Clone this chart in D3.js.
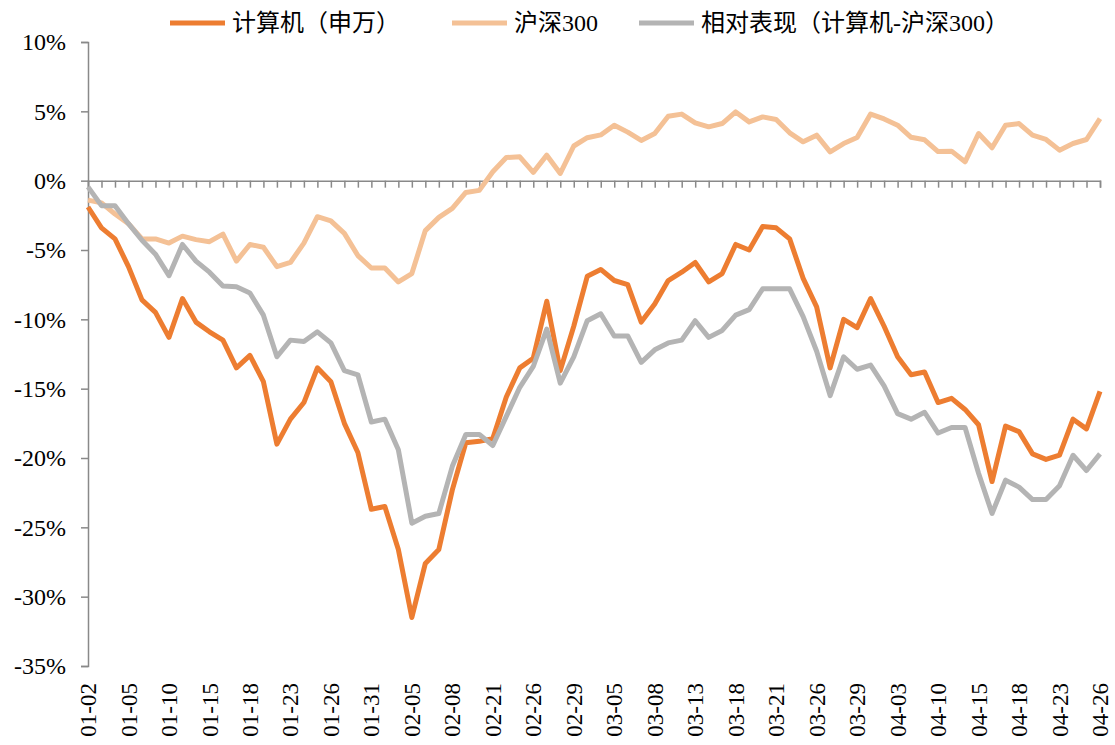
<!DOCTYPE html>
<html lang="zh">
<head>
<meta charset="UTF-8">
<title>计算机 vs 沪深300</title>
<script src="https://cdn.jsdelivr.net/npm/d3@7/dist/d3.min.js"></script>
<style>
  body { margin: 0; background: #fff; }
  text { font-family: "Liberation Serif", "Noto Sans CJK SC", serif; fill: #000; }
</style>
</head>
<body>
<svg id="chart"></svg>
<script>
const width = 1115, height = 745

// 交易日 2024-01-02 ~ 2024-04-26
const dates = [
  '01-02','01-03','01-04','01-05','01-08','01-09','01-10','01-11','01-12','01-15','01-16',
  '01-17','01-18','01-19','01-22','01-23','01-24','01-25','01-26','01-29','01-30','01-31',
  '02-01','02-02','02-05','02-06','02-07','02-08','02-19','02-20','02-21','02-22','02-23',
  '02-26','02-27','02-28','02-29',
  '03-01','03-04','03-05','03-06','03-07','03-08','03-11','03-12','03-13','03-14','03-15',
  '03-18','03-19','03-20','03-21','03-22','03-25','03-26','03-27','03-28','03-29',
  '04-01','04-02','04-03','04-08','04-09','04-10','04-11','04-12','04-15','04-16','04-17',
  '04-18','04-19','04-22','04-23','04-24','04-25','04-26'
]

// 计算机（申万）累计涨跌幅 %
const computer = [
  -1.9, -3.4, -4.2, -6.2, -8.6, -9.5, -11.3, -8.5, -10.2, -10.9, -11.5,
  -13.5, -12.6, -14.5, -19.0, -17.2, -16.0, -13.5, -14.5, -17.5, -19.6, -23.7,
  -23.5, -26.6, -31.5, -27.6, -26.6, -22.3, -18.9, -18.8, -18.6, -15.6, -13.5,
  -12.8, -8.7, -13.7, -10.5,
  -6.9, -6.4, -7.2, -7.5, -10.2, -8.9, -7.2, -6.6, -5.9, -7.3, -6.7,
  -4.6, -5.0, -3.3, -3.4, -4.2, -7.05, -9.1, -13.5, -10.0, -10.6,
  -8.5, -10.5, -12.7, -14.0, -13.8, -16.0, -15.7, -16.5, -17.6, -21.7, -17.7,
  -18.1, -19.7, -20.1, -19.8, -17.2, -17.9, -15.2
]

// 沪深300 累计涨跌幅 %
const hs300 = [
  -1.4, -1.6, -2.4, -3.1, -4.2, -4.2, -4.5, -4.0, -4.25, -4.4, -3.85,
  -5.8, -4.6, -4.8, -6.2, -5.9, -4.5, -2.6, -2.9, -3.8, -5.4, -6.3,
  -6.3, -7.3, -6.7, -3.6, -2.65, -2.0, -0.85, -0.7, 0.64, 1.67, 1.72,
  0.6, 1.84, 0.52, 2.5,
  3.1, 3.3, 4.0, 3.5, 2.9, 3.4, 4.65, 4.8, 4.17, 3.88, 4.12,
  4.96, 4.24, 4.6, 4.41, 3.45, 2.8, 3.28, 2.08, 2.68, 3.11,
  4.8, 4.45, 4.0, 3.13, 2.95, 2.1, 2.13, 1.36, 3.4, 2.37, 4.0,
  4.12, 3.28, 2.97, 2.2, 2.68, 2.97, 4.48
]

// 相对表现（计算机-沪深300）%
const relative = [
  -0.45, -1.8, -1.8, -3.1, -4.3, -5.3, -6.85, -4.6, -5.8, -6.6, -7.6,
  -7.65, -8.1, -9.7, -12.7, -11.5, -11.6, -10.9, -11.7, -13.7, -14.0, -17.4,
  -17.2, -19.4, -24.7, -24.2, -24.0, -20.6, -18.3, -18.3, -19.1, -17.0, -14.9,
  -13.4, -10.7, -14.6, -12.7,
  -10.1, -9.6, -11.2, -11.2, -13.1, -12.2, -11.7, -11.5, -10.1, -11.3, -10.8,
  -9.7, -9.3, -7.8, -7.8, -7.8, -9.8, -12.3, -15.5, -12.7, -13.6,
  -13.3, -14.8, -16.8, -17.2, -16.7, -18.2, -17.8, -17.8, -21.1, -24.0, -21.6,
  -22.1, -23.0, -23.0, -22.0, -19.8, -20.9, -19.7
]

const yTicks = [10, 5, 0, -5, -10, -15, -20, -25, -30, -35]
const xLabels = dates.filter((d, i) => i % 3 === 0)

const series = [
  {name: '计算机（申万）', values: computer, color: '#ED7D31'},
  {name: '沪深300', values: hs300, color: '#F4C196'},
  {name: '相对表现（计算机-沪深300）', values: relative, color: '#B4B4B4'}
]

const svg = d3.select('#chart')
    .attr('width', width)
    .attr('height', height)

const x = d3.scalePoint()
    .domain(dates)
    .range([88, 1100])

const y = d3.scaleLinear()
    .domain([-35, 10])
    .range([666, 42])

const axisColor = '#898989'

// Y轴
const yAxis = svg.append('g')
    .attr('transform', 'translate(88,0)')
    .call(d3.axisLeft(y).tickValues(yTicks).tickSize(7).tickPadding(15)
      .tickFormat(d => d + '%'))
yAxis.select('.domain').attr('stroke', axisColor).attr('stroke-width', 1.5)
yAxis.selectAll('.tick line').attr('stroke', axisColor).attr('stroke-width', 1.5)
yAxis.selectAll('.tick text').attr('font-size', 24)
    .attr('font-family', '"Liberation Serif", serif')

// X轴（位于 0% 处）
const xAxis = svg.append('g')
    .attr('transform', `translate(0,${y(0)})`)
    .call(d3.axisBottom(x).tickSize(7).tickFormat(''))
xAxis.select('.domain').attr('stroke', axisColor).attr('stroke-width', 1.5)
xAxis.selectAll('.tick line').attr('stroke', axisColor).attr('stroke-width', 1.5)

// 底部日期标签
svg.append('g')
  .selectAll('text')
  .data(xLabels)
  .join('text')
    .attr('transform', d => `translate(${x(d)},683) rotate(-90)`)
    .attr('text-anchor', 'end')
    .attr('dy', '0.35em')
    .attr('font-size', 23)
    .attr('font-family', '"Liberation Serif", serif')
    .text(d => d)

// 折线
const line = d3.line()
    .x((d, i) => x(dates[i]))
    .y(d => y(d))

svg.append('g')
  .selectAll('path')
  .data(series)
  .join('path')
    .attr('fill', 'none')
    .attr('stroke', d => d.color)
    .attr('stroke-width', 5)
    .attr('stroke-linejoin', 'round')
    .attr('d', d => line(d.values))

// 图例
const legendPos = [170, 452, 639]
const legend = svg.append('g')
  .selectAll('g')
  .data(series)
  .join('g')
    .attr('transform', (d, i) => `translate(${legendPos[i]},23)`)
legend.append('line')
    .attr('x1', 0).attr('x2', 55)
    .attr('stroke', d => d.color)
    .attr('stroke-width', 5)
legend.append('text')
    .attr('x', 62)
    .attr('dy', '0.35em')
    .attr('font-size', 24)
    .attr('font-family', '"Liberation Serif", "Noto Sans CJK SC", serif')
    .text(d => d.name)
</script>
</body>
</html>
